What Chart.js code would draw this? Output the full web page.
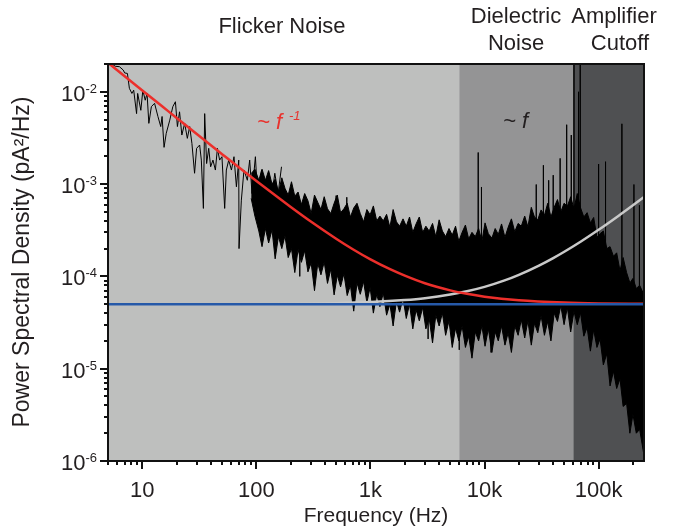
<!DOCTYPE html>
<html>
<head>
<meta charset="utf-8">
<script src="https://cdn.jsdelivr.net/npm/chart.js@4.4.1/dist/chart.umd.min.js"></script>
<style>
  html, body { margin: 0; padding: 0; background: #fff; }
  canvas { display: block; }
</style>
</head>
<body>
<canvas id="psd" width="675" height="531"></canvas>
<script>
// Low-frequency part of the measured spectrum (sparse, single trace)
const traceFreq = [5.0, 5.4, 5.8, 6.3, 6.8, 7.0, 7.4, 7.7, 8.1, 8.4, 8.9, 9.1, 9.7, 10.1, 10.6, 11.0, 11.4, 12.0, 12.8, 13.7,
  14.5, 14.9, 15.5, 16.2, 17.4, 18.5, 19.5, 20.3, 21.2, 22.2, 23.5, 24.8, 26.0, 27.2, 28.7, 29.9, 31.8, 32.9, 34.3, 35.2,
  36.6, 38.2, 39.7, 41.6, 43.7, 45.5, 47.6, 49.9, 52.7, 54.5, 57.2, 60.4, 63.6, 66.8, 70.0, 70.4, 73.8, 77.8, 83.3, 87.3,
  91.5, 98, 103, 111, 118, 126, 135, 145, 155, 166];
const tracePsd = [1.95e-2, 2.0e-2, 1.89e-2, 1.87e-2, 1.72e-2, 1.6e-2, 1.58e-2, 1.09e-2, 9.6e-3, 1.04e-2, 5.8e-3, 9.6e-3, 6.3e-3, 1.04e-2, 8.1e-3, 9.6e-3, 4.55e-3, 6.9e-3, 7.5e-3, 5.4e-3,
  4.2e-3, 5.4e-3, 2.5e-3, 3.55e-3, 4.93e-3, 6.9e-3, 7.8e-3, 4.2e-3, 6.07e-3, 3.4e-3, 4.55e-3, 3.13e-3, 4.2e-3, 2.76e-3, 1.31e-3, 2.44e-3, 2.65e-3, 1.82e-3, 5.45e-4, 5.8e-3,
  1.67e-3, 2.44e-3, 1.54e-3, 1.82e-3, 1.42e-3, 2.44e-3, 1.82e-3, 1.98e-3, 5.45e-4, 1.42e-3, 1.82e-3, 1.42e-3, 1.98e-3, 9.35e-4, 1.82e-3, 2.0e-4, 6.7e-4, 1.42e-3, 1.1e-3, 1.82e-3,
  7.9e-4, 1.98e-3, 6.7e-4, 1.42e-3, 9.35e-4, 1.2e-3, 6.7e-4, 1.31e-3, 7.9e-4, 1.54e-3];

// Dense part of the spectrum: upper / lower edge of the noise band
const bandFreq = [90, 97, 105, 112, 120, 128, 137, 146, 156, 167,
  178, 190, 203, 217, 232, 248, 265, 283, 302, 323,
  345, 368, 393, 420, 449, 480, 512, 547, 585, 625,
  667, 713, 762, 814, 870, 930, 993, 1060, 1135, 1210,
  1295, 1385, 1480, 1580, 1690, 1800, 1930, 2060, 2200, 2350,
  2510, 2680, 2870, 3060, 3270, 3500, 3740, 4000, 4270, 4560,
  4880, 5210, 5570, 5950, 6360, 6800, 7260, 7760, 8300, 8870,
  9480, 10100, 10800, 11600, 12400, 13200, 14100, 15100, 16100, 17200,
  18400, 19700, 21000, 22500, 24000, 25700, 27400, 29300, 31300, 33500,
  35800, 38200, 40800, 43600, 46600, 49800, 53200, 56900, 60800, 65000,
  69400, 74200, 79300, 84700, 90500, 96700, 103000, 110000, 118000, 126000,
  135000, 144000, 154000, 164000, 176000, 188000, 200000, 214000, 229000, 250000];
const bandUpper = [1.3e-3, 1.45e-3, 1.1e-3, 1.45e-3, 1.1e-3, 1.4e-3, 1.0e-3, 1.13e-3, 8.1e-4, 1.17e-3,
  9.0e-4, 7.6e-4, 1.06e-3, 7.4e-4, 8.2e-4, 6.0e-4, 7.9e-4, 6.6e-4, 4.8e-4, 7.6e-4,
  6.35e-4, 5.3e-4, 7.3e-4, 5.4e-4, 4.8e-4, 6.2e-4, 7.6e-4, 4.9e-4, 5.4e-4, 6.2e-4,
  4.4e-4, 5.5e-4, 6.2e-4, 4.8e-4, 3.9e-4, 5.3e-4, 4.65e-4, 5.8e-4, 4.0e-4, 4.5e-4,
  4.0e-4, 4.7e-4, 3.4e-4, 5.3e-4, 3.9e-4, 3.5e-4, 4.2e-4, 3.5e-4, 4.4e-4, 3.0e-4,
  3.7e-4, 4.4e-4, 3.0e-4, 3.5e-4, 3.1e-4, 3.75e-4, 2.7e-4, 4.1e-4, 3.1e-4, 2.7e-4,
  3.3e-4, 2.8e-4, 3.5e-4, 2.4e-4, 3.0e-4, 3.6e-4, 2.55e-4, 3.0e-4, 2.7e-4, 3.3e-4,
  2.4e-4, 3.8e-4, 2.9e-4, 2.6e-4, 3.3e-4, 2.85e-4, 3.7e-4, 2.65e-4, 3.4e-4, 4.2e-4,
  3.05e-4, 3.75e-4, 3.5e-4, 4.5e-4, 3.45e-4, 5.6e-4, 4.4e-4, 4.1e-4, 5.25e-4, 4.6e-4,
  6.2e-4, 4.4e-4, 5.6e-4, 6.8e-4, 5.0e-4, 6.2e-4, 5.75e-4, 7.3e-4, 5.4e-4, 7.9e-4,
  5.55e-4, 4.4e-4, 4.9e-4, 3.8e-4, 4.35e-4, 2.65e-4, 2.9e-4, 3.1e-4, 2.0e-4, 2.1e-4,
  1.65e-4, 1.8e-4, 1.15e-4, 1.6e-4, 1.1e-4, 8.5e-5, 9.5e-5, 7.4e-5, 8.0e-5, 6.3e-5];
const bandLower = [7.0e-4, 4.5e-4, 3.1e-4, 2.1e-4, 3.3e-4, 2.3e-4, 3.2e-4, 1.55e-4, 2.7e-4, 2.0e-4,
  2.75e-4, 1.6e-4, 2.0e-4, 1.1e-4, 1.95e-4, 1.42e-4, 1.9e-4, 1.12e-4, 1.4e-4, 7.0e-5,
  1.38e-4, 1.04e-4, 1.43e-4, 8.4e-5, 1.2e-4, 6.3e-5, 1.03e-4, 7.7e-5, 1.07e-4, 6.2e-5,
  8.0e-5, 4.2e-5, 8.5e-5, 6.4e-5, 8.8e-5, 5.2e-5, 7.6e-5, 4.0e-5, 6.4e-5, 4.7e-5,
  6.6e-5, 3.8e-5, 5.0e-5, 2.9e-5, 5.4e-5, 4.1e-5, 5.8e-5, 3.5e-5, 5.0e-5, 2.7e-5,
  4.35e-5, 3.3e-5, 4.6e-5, 2.7e-5, 3.5e-5, 1.9e-5, 3.8e-5, 2.9e-5, 4.0e-5, 2.3e-5,
  3.3e-5, 1.7e-5, 2.75e-5, 2.0e-5, 2.9e-5, 1.7e-5, 2.25e-5, 1.3e-5, 2.5e-5, 2.0e-5,
  2.9e-5, 1.75e-5, 2.7e-5, 1.5e-5, 2.5e-5, 2.0e-5, 2.9e-5, 1.8e-5, 2.45e-5, 1.5e-5,
  2.9e-5, 2.3e-5, 3.4e-5, 2.15e-5, 3.3e-5, 1.8e-5, 3.1e-5, 2.45e-5, 3.75e-5, 2.3e-5,
  3.25e-5, 2.0e-5, 4.0e-5, 3.25e-5, 4.8e-5, 3.0e-5, 4.6e-5, 2.5e-5, 4.2e-5, 3.0e-5,
  4.05e-5, 2.25e-5, 2.8e-5, 1.55e-5, 2.65e-5, 1.7e-5, 2.1e-5, 1.1e-5, 1.45e-5, 6.5e-6,
  9.4e-6, 6.1e-6, 7.8e-6, 3.9e-6, 4.2e-6, 2.0e-6, 3.2e-6, 2.0e-6, 2.2e-6, 1.15e-6];

// Isolated spectral lines sticking out of the band (base inside the band, tip outside)
const spikeFreq = [240, 500, 620, 3200, 6000, 8800, 9400, 11400, 28400, 32800, 36500, 40000, 46000, 52500, 57600, 60800, 66700, 69000, 100000, 115000, 160000, 204000, 228000];
const spikeBase = [3.5e-4, 3e-4, 3e-4, 1e-4, 8e-5, 1e-4, 1e-4, 8e-5, 1e-4, 1.2e-4, 1.2e-4, 1.3e-4, 1.4e-4, 1.4e-4, 1.4e-4, 1.4e-4, 1.4e-4, 1.4e-4, 6e-5, 5e-5, 3e-5, 2e-5, 1.5e-5];
const spikeTip = [1.0e-4, 7.5e-4, 7.2e-4, 2.1e-5, 1.6e-5, 2.2e-3, 9.3e-4, 1.5e-5, 9.9e-4, 1.6e-3, 1.1e-3, 1.25e-3, 1.9e-3, 4.4e-3, 3.4e-3, 3e-2, 1.0e-2, 3e-2, 1.65e-3, 1.75e-3, 4.5e-3, 9.9e-4, 5.9e-4];

// Model curves
const fitFreq = [5, 7, 10, 15, 20, 30, 50, 70, 100, 150, 200, 300, 500, 700, 1000, 1500, 2000, 3000, 5000, 7000, 10000, 20000, 50000, 100000, 250000];
const flickerFit = [2.065e-2, 1.476e-2, 1.035e-2, 6.92e-3, 5.2e-3, 3.48e-3, 2.11e-3, 1.52e-3, 1.08e-3, 7.37e-4, 5.65e-4, 3.93e-4, 2.56e-4, 1.97e-4, 1.53e-4, 1.19e-4, 1.02e-4, 8.43e-5, 7.06e-5, 6.47e-5, 6.03e-5, 5.52e-5, 5.21e-5, 5.10e-5, 5.04e-5];
const dielFreq = [5, 100, 500, 1000, 2000, 3000, 5000, 7000, 10000, 15000, 20000, 30000, 40000, 50000, 70000, 100000, 150000, 200000, 250000];
const dielFit = [5.0e-5, 5.0e-5, 5.13e-5, 5.27e-5, 5.54e-5, 5.8e-5, 6.35e-5, 6.9e-5, 7.7e-5, 9.05e-5, 1.04e-4, 1.31e-4, 1.58e-4, 1.85e-4, 2.39e-4, 3.2e-4, 4.55e-4, 5.9e-4, 7.25e-4];
const floorFreq = [5, 250000];
const floorFit = [5e-5, 5e-5];

// Shaded regions and axes
const regionEdges = [5, 6000, 60000, 250000];
const regionColors = ['#bebfbe', '#949495', '#4f5052'];
const regionNames = [['Flicker Noise'], ['Dielectric', 'Noise'], ['Amplifier', 'Cutoff']];
const xTicks = [10, 100, 1000, 10000, 100000];
const xTickLabels = ['10', '100', '1k', '10k', '100k'];
const yTicks = [1e-6, 1e-5, 1e-4, 1e-3, 1e-2];
const yTickExp = ['-6', '-5', '-4', '-3', '-2'];

const FONT = '"Liberation Sans", Arial, Helvetica, sans-serif';
const INK = '#231f20';

const pts = (xs, ys) => xs.map((x, i) => ({ x, y: ys[i] }));
const spikePts = spikeFreq.flatMap((f, i) => [
  { x: f, y: spikeBase[i] }, { x: f, y: spikeTip[i] }, { x: f, y: spikeBase[i] },
]);

const regions = {
  id: 'regions',
  beforeDatasetsDraw(chart) {
    const { ctx, chartArea: a, scales: { x } } = chart;
    ctx.save();
    for (let i = 0; i < regionColors.length; i++) {
      const x0 = x.getPixelForValue(regionEdges[i]);
      const x1 = x.getPixelForValue(regionEdges[i + 1]);
      ctx.fillStyle = regionColors[i];
      ctx.fillRect(x0, a.top, x1 - x0, a.bottom - a.top);
    }
    ctx.restore();
  },
};

const axes = {
  id: 'axes',
  afterDraw(chart) {
    const { ctx, chartArea: a, scales: { x, y } } = chart;
    ctx.save();
    ctx.strokeStyle = '#111';
    ctx.lineWidth = 2;
    ctx.strokeRect(a.left, a.top, a.right - a.left, a.bottom - a.top);

    // ticks, outward; decades long, the rest short
    ctx.beginPath();
    for (let e = -6; e <= -2; e++) {
      for (let m = 1; m <= 9; m++) {
        const v = m * Math.pow(10, e);
        if (v < y.min * 0.999 || v > y.max * 1.001) continue;
        const py = Math.round(y.getPixelForValue(v));
        const len = m === 1 ? 8 : 4;
        ctx.moveTo(a.left - len, py);
        ctx.lineTo(a.left, py);
      }
    }
    for (let e = 0; e <= 5; e++) {
      for (let m = 1; m <= 9; m++) {
        const v = m * Math.pow(10, e);
        if (v < x.min || v > x.max) continue;
        const px = Math.round(x.getPixelForValue(v));
        const len = m === 1 ? 8 : 4;
        ctx.moveTo(px, a.bottom);
        ctx.lineTo(px, a.bottom + len);
      }
    }
    ctx.stroke();

    ctx.fillStyle = INK;
    // y tick labels: 10 with superscript exponent
    yTicks.forEach((v, i) => {
      const py = y.getPixelForValue(v);
      ctx.font = `13px ${FONT}`;
      ctx.textAlign = 'right';
      ctx.textBaseline = 'alphabetic';
      const supW = ctx.measureText(yTickExp[i]).width;
      ctx.fillText(yTickExp[i], a.left - 11, py + 1);
      ctx.font = `22px ${FONT}`;
      ctx.fillText('10', a.left - 11 - supW, py + 9);
    });
    // x tick labels
    ctx.font = `22px ${FONT}`;
    ctx.textAlign = 'center';
    xTicks.forEach((v, i) => ctx.fillText(xTickLabels[i], x.getPixelForValue(v), 497));

    // axis titles
    ctx.font = `21px ${FONT}`;
    ctx.fillText('Frequency (Hz)', (a.left + a.right) / 2, 522);
    ctx.save();
    ctx.font = `23px ${FONT}`;
    ctx.translate(29, 262);
    ctx.rotate(-Math.PI / 2);
    ctx.fillText('Power Spectral Density (pA\u00b2/Hz)', 0, 0);
    ctx.restore();

    // region names above the plot
    ctx.font = `22px ${FONT}`;
    const nameX = [282, 516, 614];
    regionNames.forEach((lines, i) => {
      if (lines.length === 1) ctx.fillText(lines[0], nameX[i], 33);
      else { ctx.fillText(lines[0], nameX[i], 23); ctx.fillText(lines[1], nameX[i] + (i === 2 ? 6 : 0), 50); }
    });

    // slope annotations
    ctx.textAlign = 'left';
    ctx.fillStyle = '#e8322d';
    ctx.font = `italic 22px ${FONT}`;
    ctx.fillText('~ f', 257, 129);
    ctx.font = `italic 13px ${FONT}`;
    ctx.fillText('-1', 289, 120);
    ctx.fillStyle = INK;
    ctx.font = `italic 22px ${FONT}`;
    ctx.fillText('~ f', 503, 128);
    ctx.restore();
  },
};

new Chart(document.getElementById('psd'), {
  type: 'line',
  data: {
    datasets: [
      { data: pts(floorFreq, floorFit), borderColor: '#2659a8', borderWidth: 2.5, order: 0 },
      { data: pts(fitFreq, flickerFit), borderColor: '#ec2f2b', borderWidth: 2.5, cubicInterpolationMode: 'monotone', order: 1 },
      { data: pts(dielFreq, dielFit), borderColor: '#c9c9c9', borderWidth: 2.5, cubicInterpolationMode: 'monotone', order: 2 },
      { data: spikePts, borderColor: '#000', borderWidth: 1, order: 3 },
      { data: pts(bandFreq, bandUpper), borderColor: '#000', borderWidth: 1, backgroundColor: '#000', fill: '+1', order: 4 },
      { data: pts(bandFreq, bandLower), borderColor: '#000', borderWidth: 1, order: 5 },
      { data: pts(traceFreq, tracePsd), borderColor: '#000', borderWidth: 1, order: 6 },
    ],
  },
  options: {
    responsive: false,
    animation: false,
    devicePixelRatio: 1,
    layout: { padding: { left: 108, right: 31, top: 64, bottom: 70 } },
    elements: { point: { radius: 0 }, line: { tension: 0 } },
    plugins: { legend: { display: false }, tooltip: { enabled: false } },
    scales: {
      x: { type: 'logarithmic', min: 5, max: 250000, display: false },
      y: { type: 'logarithmic', min: 1e-6, max: 0.02, display: false },
    },
  },
  plugins: [regions, axes],
});
</script>
</body>
</html>
